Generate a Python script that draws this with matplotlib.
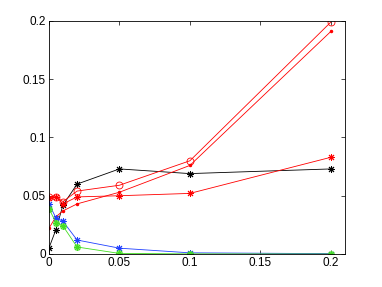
import matplotlib
matplotlib.use('Agg')
import matplotlib.pyplot as plt

x = [0, 0.005, 0.01, 0.02, 0.05, 0.1, 0.2]

black_star = [0.005, 0.021, 0.042, 0.060, 0.073, 0.069, 0.073]
red_circle = [0.049, 0.049, 0.045, 0.054, 0.059, 0.080, 0.199]
red_dot = [0.022, 0.032, 0.037, 0.043, 0.053, 0.076, 0.191]
red_star = [0.048, 0.049, 0.043, 0.049, 0.050, 0.052, 0.083]
blue_star = [0.043, 0.031, 0.028, 0.012, 0.005, 0.001, 0.0003]
green_star = [0.039, 0.027, 0.024, 0.006, 0.0005, 0.0001, 0.0]

xticks = [0, 0.05, 0.1, 0.15, 0.2]
xticklabels = ['0', '0.05', '0.1', '0.15', '0.2']
yticks = [0, 0.05, 0.1, 0.15, 0.2]
yticklabels = ['0', '0.05', '0.1', '0.15', '0.2']


def main():
    plt.rcParams['font.family'] = ['Liberation Sans', 'DejaVu Sans']
    fig = plt.figure(figsize=(3.82, 2.87), dpi=100)
    ax = fig.add_axes([0.128, 0.115, 0.775, 0.812])

    lw = 0.6
    star = (8, 2, 0)  # matlab-style asterisk
    ms = dict(markersize=5, markeredgewidth=0.7)
    ax.plot(x, black_star, color='k', marker=star, linewidth=lw, **ms)
    ax.plot(x, red_circle, color='r', marker='o', markersize=5, markerfacecolor='none',
            markeredgewidth=0.6, linewidth=lw)
    ax.plot(x, red_dot, color='r', marker='.', markersize=3, linewidth=lw)
    ax.plot(x, red_star, color='r', marker=star, linewidth=lw, **ms)
    ax.plot(x, blue_star, color='#2040ff', marker=star, linewidth=lw, **ms)
    ax.plot(x, green_star, color='#44dd22', marker='o', markersize=4, markerfacecolor='none',
            markeredgewidth=0.7, linewidth=lw)
    ax.plot(x, green_star, color='#44dd22', marker=star, linewidth=0, **ms)

    ax.set_xlim(0, 0.21)
    ax.set_ylim(0, 0.2)
    ax.set_xticks(xticks)
    ax.set_xticklabels(xticklabels)
    ax.set_yticks(yticks)
    ax.set_yticklabels(yticklabels)
    ax.tick_params(direction='in', labelsize=8.5, length=3, width=0.5,
                   top=True, right=True, pad=2)
    for s in ax.spines.values():
        s.set_linewidth(0.6)

    fig.savefig('out.png', dpi=100)


if __name__ == '__main__':
    main()
